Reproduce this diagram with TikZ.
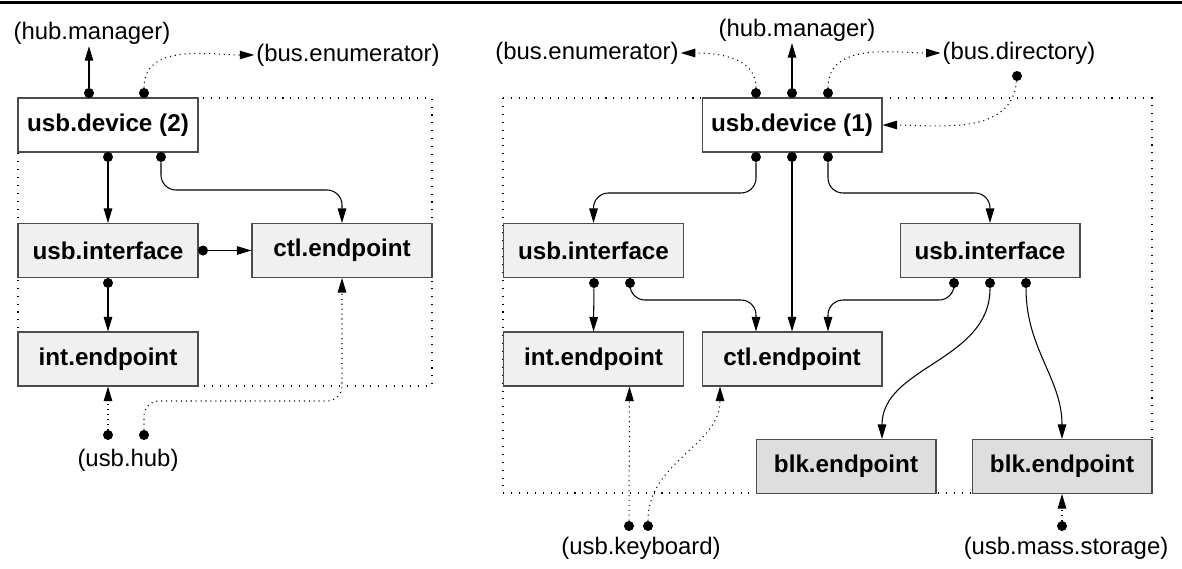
\documentclass[tikz,border=0pt]{standalone}
\usepackage{fontspec}
\setmainfont{Liberation Sans}
\usepackage{tikz}
\usetikzlibrary{positioning, arrows.meta, calc}

\begin{document}
\begin{tikzpicture}
[x=0.02cm, y=-0.02cm,
 dev/.style={rectangle, draw=black!70, line width=0.6pt, fill=white, minimum width=3.6cm,
   minimum height=1.08cm, inner sep=0pt, font=\fontsize{13.8}{16}\selectfont\bfseries},
 ifc/.style={dev, fill=black!6},
 blk/.style={dev, fill=black!13},
 plug/.style={circle, fill=black, inner sep=0pt, minimum size=0.2cm},
 lbl/.style={inner sep=1pt, font=\fontsize{13.6}{16}\selectfont},
 zone/.style={line width=0.6pt, dash pattern=on 0.6pt off 3.9pt},
 dots/.style={dash pattern=on 0.6pt off 2.2pt},
 ->/.style={line width=0.6pt, arrows={-{Triangle[length=0.29cm, width=0.17cm]}}}]
\useasboundingbox (0,0) rectangle (1182,568);
\draw[line width=0.07cm] (0,2.5) -- (1182,2.5);
% the two driver groups
\draw[zone] (18,98) rectangle (432,386);
\draw[zone] (503,98) rectangle (1152,493);

% left: usb.device (2)
\node[dev] (dev2) at (108,125) {usb.device (2)};
\node[ifc] (if2) at (108,250.5) {usb.interface};
\node[ifc] (ctl2) at (342,250.5) {ctl.endpoint};
\node[ifc] (int2) at (108,359) {int.endpoint};
\node[lbl] (hm2) at (92,33) {(hub.manager)};
\node[lbl] (be2) at (348,55) {(bus.enumerator)};
\node[lbl] (hub) at (128,460) {(usb.hub)};
\node[plug] (p1) at (89,93) {};
\node[plug] (p2) at (144,93) {};
\node[plug] (p3) at (108,157) {};
\node[plug] (p4) at (161,157) {};
\node[plug] (p5) at (203,250.5) {};
\node[plug] (p6) at (108,283) {};
\node[plug] (p7) at (108,435) {};
\node[plug] (p8) at (144,435) {};
\draw[->] (p1) -- (p1 |- hm2.south);
\draw[->, dots] (p2) to[out=90, in=180] (be2.west);
\draw[->] (p3) -- (if2.north);
\draw[->, rounded corners=0.3cm] (p4) |- (250,190) -| (ctl2.north);
\draw[->] (p5) -- (ctl2.west);
\draw[->] (p6) -- (int2.north);
\draw[->, dots] (p7) -- (int2.south);
\draw[->, dots, rounded corners=0.3cm] (p8) |- (240,401) -| (ctl2.south);

% right: usb.device (1)
\node[dev] (dev1) at (792,125) {usb.device (1)};
\node[ifc] (if1a) at (593.5,250.5) {usb.interface};
\node[ifc] (if1b) at (990,250.5) {usb.interface};
\node[ifc] (int1) at (593.5,359) {int.endpoint};
\node[ifc] (ctl1) at (792,359) {ctl.endpoint};
\node[blk] (blk1) at (846,466.5) {blk.endpoint};
\node[blk] (blk2) at (1062,466.5) {blk.endpoint};
\node[lbl] (hm1) at (797,30) {(hub.manager)};
\node[lbl] (be1) at (587,53) {(bus.enumerator)};
\node[lbl] (bd1) at (1019,53) {(bus.directory)};
\node[lbl] (kb) at (641,548) {(usb.keyboard)};
\node[lbl] (ms) at (1066,548) {(usb.mass.storage)};
\node[plug] (q1) at (756,93) {};
\node[plug] (q2) at (792,93) {};
\node[plug] (q3) at (828,93) {};
\node[plug] (q4) at (1017,76) {};
\node[plug] (q5) at (756,157) {};
\node[plug] (q6) at (792,157) {};
\node[plug] (q7) at (828,157) {};
\node[plug] (q8) at (594,283) {};
\node[plug] (q9) at (630,283) {};
\node[plug] (q10) at (954,283) {};
\node[plug] (q11) at (990,283) {};
\node[plug] (q12) at (1026,283) {};
\node[plug] (q13) at (629,526) {};
\node[plug] (q14) at (648,526) {};
\node[plug] (q15) at (1062,526) {};
\draw[->, dots] (q1) to[out=90, in=0] (be1.east);
\draw[->] (q2) -- (q2 |- hm1.south);
\draw[->, dots] (q3) to[out=90, in=180] (bd1.west);
\draw[->, dots] (q4) to[out=-95, in=0] (dev1.east);
\draw[->, rounded corners=0.3cm] (q5) |- (675,193) -| (if1a.north);
\draw[->] (q6) -- (ctl1.north);
\draw[->, rounded corners=0.3cm] (q7) |- (910,193) -| (if1b.north);
\draw[->] (q8) -- (int1.north);
\draw[->, rounded corners=0.3cm] (q9) |- (700,300) -| ($(ctl1.north)+(-36,0)$);
\draw[->, rounded corners=0.3cm] (q10) |- (890,300) -| ($(ctl1.north)+(36,0)$);
\draw[->] (q11) to[out=-90, in=90] ($(blk1.north)+(36,0)$);
\draw[->] (q12) to[out=-90, in=90] (blk2.north);
\draw[->, dots] (q13) -- ($(int1.south)+(36,0)$);
\draw[->, dots] (q14) to[out=90, in=-90] ($(ctl1.south)+(-72,0)$);
\draw[->, dots] (q15) -- (blk2.south);
\end{tikzpicture}
\end{document}
